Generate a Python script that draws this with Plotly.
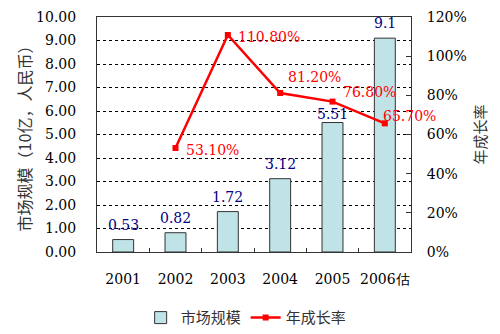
import plotly.graph_objects as go

years = ["2001", "2002", "2003", "2004", "2005", "2006估"]
market_size = [0.53, 0.82, 1.72, 3.12, 5.51, 9.1]
size_labels = ["0.53", "0.82", "1.72", "3.12", "5.51", "9.1"]
growth_years = ["2002", "2003", "2004", "2005", "2006估"]
growth_rate = [53.10, 110.80, 81.20, 76.80, 65.70]
# label offsets (px) above each bar and beside each growth point
size_dy = [5, 5, 5, 5, -1, 5]
label_dx = [8, 8, 6, 8, -4]
label_dy = [-2, -2, 16, 10, 7]

SERIF = "DejaVu Serif, Liberation Serif, serif"
CJK = "Noto Sans CJK SC, sans-serif"

fig = go.Figure()
fig.add_trace(go.Bar(
    x=years, y=market_size, name="市场规模",
    marker=dict(color="#bfe3e6", line=dict(color="#333333", width=1)),
    width=0.4, yaxis="y",
))
fig.add_trace(go.Scatter(
    x=growth_years, y=growth_rate, name="年成长率", yaxis="y2",
    mode="lines+markers",
    line=dict(color="#ff0000", width=2.5),
    marker=dict(symbol="square", size=6, color="#ff0000"),
))

# annotations on a category axis take the category's serial index
annotations = []
for x, v, t, dy in zip(years, market_size, size_labels, size_dy):
    annotations.append(dict(
        x=years.index(x), y=v, xref="x", yref="y", text=t, showarrow=False,
        yanchor="bottom", yshift=dy,
        font=dict(family=SERIF, size=14, color="#000080"),
    ))
for x, v, dx, dy in zip(growth_years, growth_rate, label_dx, label_dy):
    annotations.append(dict(
        x=years.index(x), y=v, xref="x", yref="y2", text=f"{v:.2f}%",
        showarrow=False,
        xanchor="left", yanchor="middle", xshift=dx, yshift=dy,
        font=dict(family=SERIF, size=14, color="#ff0000"),
    ))

fig.update_layout(
    width=500, height=334,
    margin=dict(l=97, r=89, t=17, b=82, autoexpand=False),
    paper_bgcolor="white", plot_bgcolor="white",
    showlegend=True,
    legend=dict(
        orientation="h", x=0.475, xanchor="center", y=-0.21, yanchor="top",
        font=dict(family=CJK, size=15, color="#333333"),
        itemwidth=30, tracegroupgap=0,
    ),
    xaxis=dict(
        type="category", range=[-0.5, len(years) - 0.5],
        showline=True, linecolor="#333333", linewidth=1, mirror=True,
        ticks="inside", tickson="boundaries", ticklen=4, tickcolor="#333333",
        tickangle=0,
        tickfont=dict(family=SERIF, size=14, color="#000000"),
        ticklabelstandoff=14,
    ),
    yaxis=dict(
        range=[0, 10], dtick=1, tickformat=".2f",
        showline=True, linecolor="#333333", linewidth=1,
        showgrid=True, gridcolor="#000000", griddash="3px,3px", gridwidth=1,
        zeroline=False,
        tickfont=dict(family=SERIF, size=14, color="#000000"),
        ticklabelstandoff=17,
        title=dict(text="市场规模（10亿，人民币）",
                   font=dict(family=CJK, size=16, color="#333333"), standoff=0),
    ),
    yaxis2=dict(
        range=[0, 120], dtick=20, ticksuffix="%", overlaying="y", side="right",
        showline=True, linecolor="#333333", linewidth=1,
        showgrid=False, zeroline=False,
        ticks="inside", ticklen=5, tickcolor="#333333",
        tickfont=dict(family=SERIF, size=14, color="#000000"),
        ticklabelstandoff=12,
        title=dict(text="年成长率",
                   font=dict(family=CJK, size=15, color="#333333"), standoff=9),
    ),
    annotations=annotations,
)

fig.write_html("out.html")
